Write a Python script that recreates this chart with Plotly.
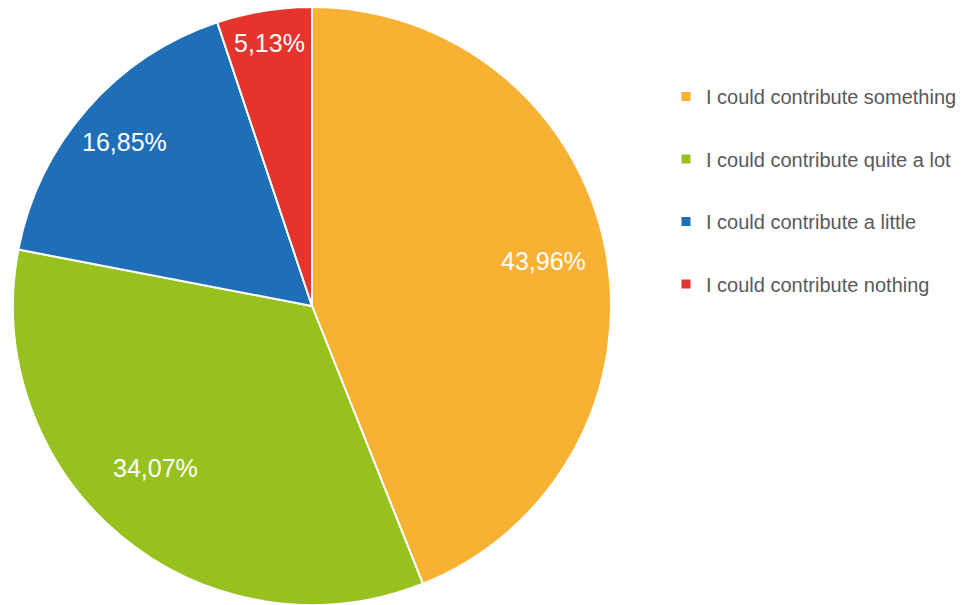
import math
import plotly.graph_objects as go

labels = [
    "I could contribute something",
    "I could contribute quite a lot",
    "I could contribute a little",
    "I could contribute nothing",
]
values = [43.96, 34.07, 16.85, 5.13]
colors = ["#F8B133", "#97C11F", "#1F6FB8", "#E4342B"]

# placement of each percentage label: fraction of the radius and
# angular nudge (degrees) away from the slice bisector
label_radius = [0.79, 0.755, 0.835, 0.89]
label_nudge = [0.0, 4.5, 0.0, 0.0]

W, H = 963, 605
dom_x = [13 / W, 611 / W]
dom_y = [0, 598 / H]

text = [f"{v:.2f}%".replace(".", ",") for v in values]

fig = go.Figure()
fig.add_trace(go.Pie(
    labels=labels,
    values=values,
    textinfo="none",
    marker=dict(colors=colors, line=dict(color="white", width=2)),
    sort=False,
    direction="clockwise",
    rotation=0,
    showlegend=False,
    domain=dict(x=dom_x, y=dom_y),
))

# percentage labels along each slice's bisector
cx = (dom_x[0] + dom_x[1]) / 2 * W
cy = (dom_y[0] + dom_y[1]) / 2 * H
R = min((dom_x[1] - dom_x[0]) * W, (dom_y[1] - dom_y[0]) * H) / 2
total = sum(values)
cum = 0.0
for v, t, f, d in zip(values, text, label_radius, label_nudge):
    mid = (cum + v / 2) / total * 2 * math.pi + math.radians(d)
    cum += v
    px = cx + f * R * math.sin(mid)
    py = cy + f * R * math.cos(mid)
    fig.add_annotation(
        x=px / W, y=py / H, xref="paper", yref="paper",
        text=t, showarrow=False, xanchor="center", yanchor="middle",
        font=dict(family="Liberation Sans", size=25, color="white"),
    )

# legend entries as separate groups so the gap between rows can be set
for i, (lab, col) in enumerate(zip(labels, colors)):
    fig.add_trace(go.Scatter(
        x=[None], y=[None], mode="markers", name=lab,
        marker=dict(symbol="square", size=9, color=col),
        legendgroup=f"g{i}", showlegend=True,
    ))

fig.update_layout(
    width=W, height=H,
    margin=dict(l=0, r=0, t=0, b=0, autoexpand=False),
    paper_bgcolor="white", plot_bgcolor="white",
    xaxis=dict(visible=False), yaxis=dict(visible=False),
    legend=dict(
        x=666 / W, y=1 - 77 / H, xanchor="left", yanchor="top",
        font=dict(family="Liberation Sans", size=20, color="#595959"),
        tracegroupgap=33.5, itemwidth=30,
    ),
)

fig.write_html("out.html")
